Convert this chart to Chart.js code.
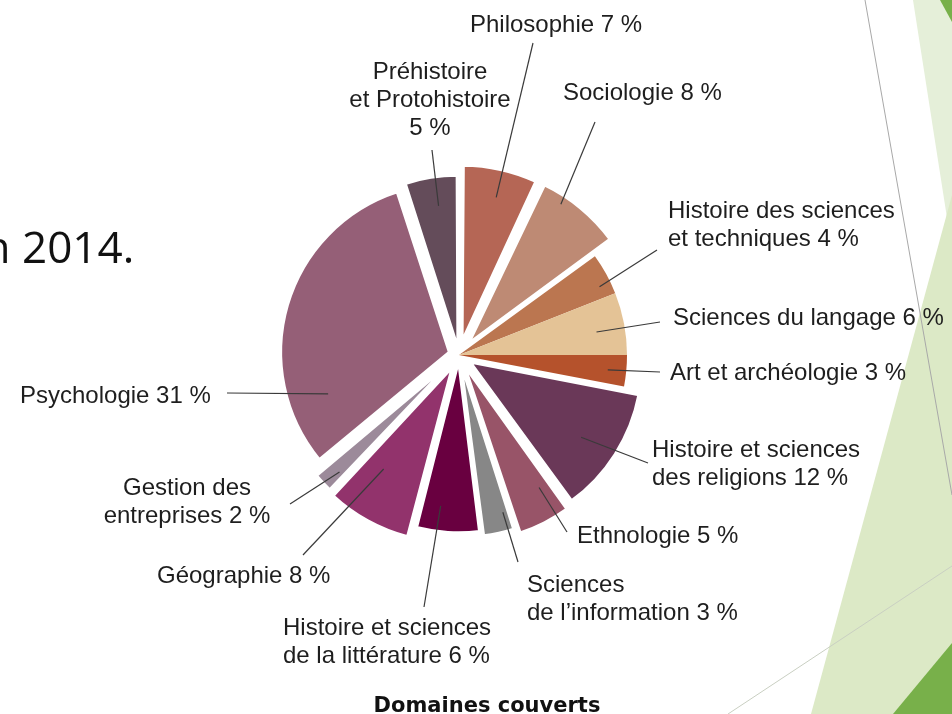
<!DOCTYPE html>
<html><head><meta charset="utf-8">
<script src="https://cdn.jsdelivr.net/npm/chart.js@4.4.1/dist/chart.umd.min.js"></script>
<style>html,body{margin:0;padding:0;background:#fff;overflow:hidden}#wrap{position:relative;width:952px;height:714px}</style>
</head><body><div id="wrap"><canvas id="c"></canvas></div>
<script>
// ---- data ----
const categories = ["Philosophie","Sociologie","Histoire des sciences et techniques","Sciences du langage","Art et archéologie","Histoire et sciences des religions","Ethnologie","Sciences de l’information","Histoire et sciences de la littérature","Géographie","Gestion des entreprises","Psychologie","Préhistoire et Protohistoire"];
const shares = [7, 8, 4, 6, 3, 12, 5, 3, 6, 8, 2, 31, 5];
const labelLines = [
  ["Philosophie 7 %"],
  ["Sociologie 8 %"],
  ["Histoire des sciences", "et techniques 4 %"],
  ["Sciences du langage 6 %"],
  ["Art et archéologie 3 %"],
  ["Histoire et sciences", "des religions 12 %"],
  ["Ethnologie 5 %"],
  ["Sciences", "de l’information 3 %"],
  ["Histoire et sciences", "de la littérature 6 %"],
  ["Géographie 8 %"],
  ["Gestion des", "entreprises 2 %"],
  ["Psychologie 31 %"],
  ["Préhistoire", "et Protohistoire", "5 %"]
];
const chartTitle = "Domaines couverts";
const slideText = "en 2014.";

// ---- styles / layout ----
const sliceColors = ["#b56655","#be8a74","#bb7650","#e4c396","#b5522c","#6a3858","#985468","#878787","#690040","#92336c","#9c8a9a","#955f77","#644c5a"];
const sliceOffsets = [56, 60, 0, 0, 0, 52, 48, 32, 24, 56, 40, 40, 28];
const sliceBorders = [3, 3, 0, 0, 0, 3, 3, 3, 3, 3, 3, 3, 3];
const labelPos = [
  {x:470, y:32, a:"left"}, {x:563, y:100, a:"left"}, {x:668, y:218, a:"left"},
  {x:673, y:325, a:"left"}, {x:670, y:380, a:"left"}, {x:652, y:457, a:"left"},
  {x:577, y:543, a:"left"}, {x:527, y:592, a:"left"}, {x:283, y:635, a:"left"},
  {x:157, y:583, a:"left"}, {x:187, y:495, a:"center"}, {x:20, y:403, a:"left"},
  {x:430, y:79, a:"center"}
];
const leaderEnds = [[533,43],[595,122],[657,250],[660,322],[660,372],[648,463],[567,532],[518,562],[424,607],[303,555],[290,504],[227,393],[432,150]];
const leaderAng = [0.53,0.29,0.70,0.56,0.53,0.54,0.25,0.21,0.66,0.68,0.32,0.185,0.57];
const leaderRad = [0.84,0.95,0.93,0.83,0.89,0.78,0.81,0.89,0.85,0.70,0.89,0.76,0.83];

const decoPlugin = {
  id: 'deco',
  beforeDraw(chart) {
    const ctx = chart.ctx;
    ctx.save();
    ctx.fillStyle = '#ffffff';
    ctx.fillRect(0, 0, chart.width, chart.height);
    const poly = (pts, col) => { ctx.beginPath(); ctx.moveTo(pts[0][0], pts[0][1]); for (let i = 1; i < pts.length; i++) ctx.lineTo(pts[i][0], pts[i][1]); ctx.closePath(); ctx.fillStyle = col; ctx.fill(); };
    poly([[913,0],[952,0],[952,250]], '#e5efd9');
    poly([[952,195],[952,714],[811,714]], '#dce9c6');
    poly([[893,714],[952,643],[952,714]], '#78b04a');
    poly([[940,0],[952,0],[952,22]], '#78b04a');
    ctx.lineWidth = 1;
    ctx.strokeStyle = '#a8a8a8';
    ctx.beginPath(); ctx.moveTo(865,0); ctx.lineTo(952,495); ctx.stroke();
    ctx.strokeStyle = '#c9cfc2';
    ctx.beginPath(); ctx.moveTo(728,714); ctx.lineTo(952,566); ctx.stroke();
    // slide text
    ctx.fillStyle = '#111111';
    ctx.font = '44px "Open Sans"';
    ctx.textAlign = 'left';
    ctx.textBaseline = 'alphabetic';
    const pre = ctx.measureText('en ').width;
    ctx.fillText(slideText, 22 - pre, 263);
    ctx.restore();
  },
  afterDraw(chart) {
    const ctx = chart.ctx;
    const meta = chart.getDatasetMeta(0);
    ctx.save();
    meta.data.forEach((el, i) => {
      const {x, y, startAngle, endAngle, outerRadius} = el;
      const T = sliceOffsets[i] / 4;
      const circ = endAngle - startAngle;
      const f = 1 - Math.sin(Math.min(Math.PI, circ));
      const bis = (startAngle + endAngle) / 2;
      const a = startAngle + leaderAng[i] * circ;
      const R = (outerRadius + T * f) * leaderRad[i];
      const px = x + Math.cos(bis) * T + Math.cos(a) * R;
      const py = y + Math.sin(bis) * T + Math.sin(a) * R;
      ctx.strokeStyle = '#3a3a3a';
      ctx.lineWidth = 1.2;
      ctx.beginPath(); ctx.moveTo(px, py); ctx.lineTo(leaderEnds[i][0], leaderEnds[i][1]); ctx.stroke();
    });
    ctx.fillStyle = '#1e1e1e';
    ctx.font = '24px "Liberation Sans", Arial, sans-serif';
    ctx.textBaseline = 'alphabetic';
    labelLines.forEach((lines, i) => {
      const p = labelPos[i];
      ctx.textAlign = p.a;
      lines.forEach((t, k) => ctx.fillText(t, p.x, p.y + k * 28));
    });
    ctx.font = 'bold 21px "DejaVu Sans", sans-serif';
    ctx.textAlign = 'center';
    ctx.fillStyle = '#111111';
    ctx.fillText(chartTitle, 487, 712);
    ctx.restore();
  }
};

new Chart(document.getElementById('c'), {
  type: 'pie',
  data: {
    labels: categories,
    datasets: [{
      data: shares,
      backgroundColor: sliceColors,
      offset: sliceOffsets,
      borderWidth: sliceBorders,
      borderColor: '#ffffff',
      radius: 168
    }]
  },
  options: {
    responsive: true,
    maintainAspectRatio: false,
    animation: false,
    radius: 168,
    layout: { padding: { left: 0, right: 34, top: 0, bottom: 4 } },
    plugins: { legend: { display: false }, tooltip: { enabled: false }, title: { display: false } }
  },
  plugins: [decoPlugin]
});
</script>
</body></html>
